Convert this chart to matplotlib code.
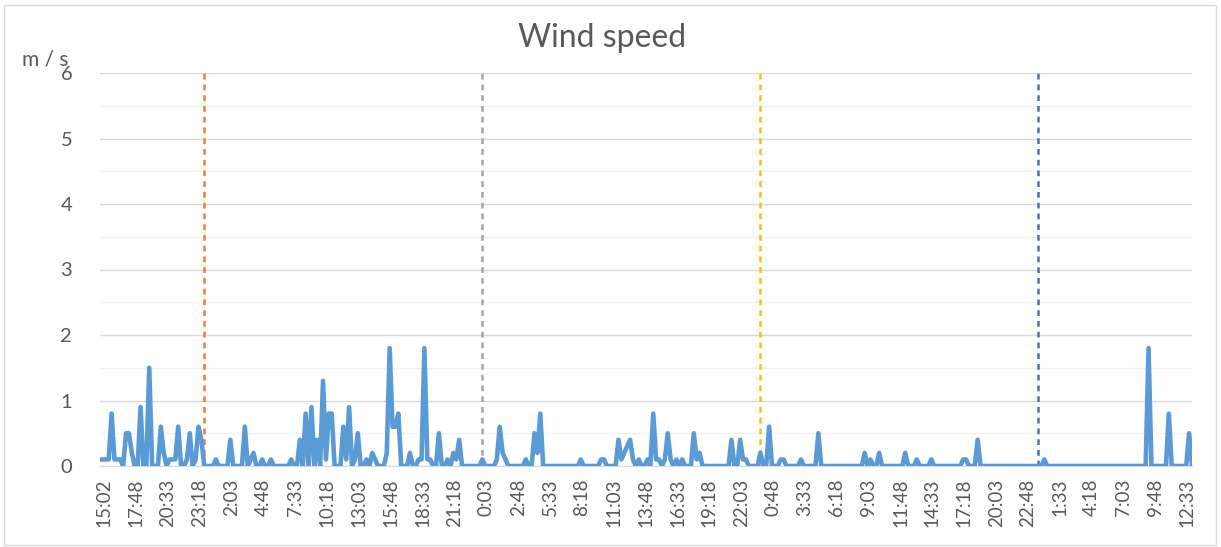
import numpy as np
import matplotlib.pyplot as plt
import matplotlib.transforms as mtransforms
from matplotlib.patches import Rectangle
from matplotlib.ticker import MultipleLocator

# wind speed readings (m/s), one row per labelled tick interval (11 readings)
wind = [
    0.1, 0.1, 0.1, 0.1, 0.8, 0.1, 0.1, 0.1, 0, 0.5, 0.5,        # 15:02
    0.2, 0, 0, 0.9, 0, 0, 1.5, 0, 0, 0, 0.6,                    # 17:48
    0.2, 0, 0.1, 0.1, 0.1, 0.6, 0, 0, 0.1, 0.5, 0,              # 20:33
    0.1, 0.6, 0.4, 0, 0, 0, 0, 0.1, 0, 0, 0,                    # 23:18
    0, 0.4, 0, 0, 0, 0, 0.6, 0, 0.1, 0.2, 0,                    # 2:03
    0, 0.1, 0, 0, 0.1, 0, 0, 0, 0, 0, 0,                        # 4:48
    0.1, 0, 0, 0.4, 0, 0.8, 0, 0.9, 0, 0.4, 0,                  # 7:33
    1.3, 0.1, 0.8, 0.8, 0, 0, 0, 0.6, 0.1, 0.9, 0,              # 10:18
    0.1, 0.5, 0, 0, 0.1, 0, 0.2, 0.1, 0, 0, 0,                  # 13:03
    0.2, 1.8, 0.6, 0.6, 0.8, 0, 0, 0, 0.2, 0, 0,                # 15:48
    0.1, 0.1, 1.8, 0.1, 0.1, 0, 0, 0.5, 0, 0, 0.1,              # 18:33
    0, 0.2, 0.1, 0.4, 0, 0, 0, 0, 0, 0, 0,                      # 21:18
    0.1, 0, 0, 0, 0, 0.1, 0.6, 0.2, 0.1, 0, 0,                  # 0:03
    0, 0, 0, 0, 0.1, 0, 0, 0.5, 0.2, 0.8, 0,                    # 2:48
    0, 0, 0, 0, 0, 0, 0, 0, 0, 0, 0,                            # 5:33
    0, 0.1, 0, 0, 0, 0, 0, 0, 0.1, 0.1, 0,                      # 8:18
    0, 0, 0, 0.4, 0.1, 0.2, 0.3, 0.4, 0.1, 0, 0.1,              # 11:03
    0, 0, 0.1, 0, 0.8, 0.1, 0.1, 0, 0.1, 0.5, 0.1,              # 13:48
    0, 0.1, 0, 0.1, 0, 0, 0, 0.5, 0.1, 0.2, 0,                  # 16:33
    0, 0, 0, 0, 0, 0, 0, 0, 0, 0.4, 0,                          # 19:18
    0, 0.4, 0.1, 0.1, 0, 0, 0, 0, 0.2, 0, 0,                    # 22:03
    0.6, 0, 0, 0, 0.1, 0.1, 0, 0, 0, 0, 0,                      # 0:48
    0.1, 0, 0, 0, 0, 0, 0.5, 0, 0, 0, 0,                        # 3:33
    0, 0, 0, 0, 0, 0, 0, 0, 0, 0, 0,                            # 6:18
    0.2, 0, 0.1, 0, 0, 0.2, 0, 0, 0, 0, 0,                      # 9:03
    0, 0, 0, 0.2, 0, 0, 0, 0.1, 0, 0, 0,                        # 11:48
    0, 0.1, 0, 0, 0, 0, 0, 0, 0, 0, 0,                          # 14:33
    0, 0.1, 0.1, 0, 0, 0, 0.4, 0, 0, 0, 0,                      # 17:18
    0, 0, 0, 0, 0, 0, 0, 0, 0, 0, 0,                            # 20:03
    0, 0, 0, 0, 0, 0, 0, 0.1, 0, 0, 0,                          # 22:48
    0, 0, 0, 0, 0, 0, 0, 0, 0, 0, 0,                            # 1:33
    0, 0, 0, 0, 0, 0, 0, 0, 0, 0, 0,                            # 4:18
    0, 0, 0, 0, 0, 0, 0, 0, 0, 0, 1.8,                          # 7:03
    0, 0, 0, 0, 0, 0, 0.8, 0, 0, 0, 0,                          # 9:48
    0, 0, 0.5, 0,                                               # 12:33
]

tick_labels = ['15:02', '17:48', '20:33', '23:18', '2:03', '4:48', '7:33',
               '10:18', '13:03', '15:48', '18:33', '21:18', '0:03', '2:48',
               '5:33', '8:18', '11:03', '13:48', '16:33', '19:18', '22:03',
               '0:48', '3:33', '6:18', '9:03', '11:48', '14:33', '17:18',
               '20:03', '22:48', '1:33', '4:18', '7:03', '9:48', '12:33']

# reading index where each new day starts, and the marker colours
day_marks = [36, 132, 228, 324]
day_colors = ['#ED7D31', '#A5A5A5', '#FFC000', '#4472C4']

plt.rcParams['font.family'] = ['Lato', 'DejaVu Sans']
text_color = '#595959'

fig = plt.figure(figsize=(12.21, 5.47), dpi=100)
ax = fig.add_axes([100 / 1221, 1 - 466 / 547, 1092 / 1221, 393 / 547])

x = np.arange(len(wind))
ax.plot(x, wind, color='#5B9BD5', lw=3.3, solid_joinstyle='round',
        solid_capstyle='round', zorder=3)

for pos, c in zip(day_marks, day_colors):
    ax.axvline(pos, color=c, lw=1.8, ls=(0, (2.3, 2.0)), zorder=2)

ax.set_xlim(0, len(wind) - 1)
ax.set_ylim(0, 6)
ax.set_yticks(range(7))
ax.yaxis.set_minor_locator(MultipleLocator(0.5))
ax.grid(axis='y', which='major', color='#D9D9D9', lw=1)
ax.grid(axis='y', which='minor', color='#F2F2F2', lw=1)
ax.set_axisbelow(True)
for s in ['top', 'right', 'left']:
    ax.spines[s].set_visible(False)
ax.spines['bottom'].set_color('#D9D9D9')

ax.set_xticks(np.arange(0, len(wind), 11))
ax.set_xticklabels(tick_labels, rotation=90, fontsize=13.5, color=text_color)
ax.tick_params(axis='x', which='both', length=0, pad=9)
ax.tick_params(axis='y', which='both', length=0, pad=20, labelsize=14.5,
               labelcolor=text_color)
shift = mtransforms.ScaledTranslation(0.04, 0, fig.dpi_scale_trans)
for lab in ax.get_xticklabels():
    lab.set_transform(lab.get_transform() + shift)

fig.text(602 / 1221, 1 - 38 / 547, 'Wind speed', ha='center', va='center',
         fontsize=23, color=text_color)
fig.text(22 / 1221, 1 - 60 / 547, 'm / s', ha='left', va='center',
         fontsize=15, color=text_color)

fig.add_artist(Rectangle((4 / 1221, 2 / 547), 1212 / 1221, 540 / 547,
                         transform=fig.transFigure, fill=False,
                         edgecolor='#D9D9D9', lw=1))

fig.savefig('out.png', dpi=100)
